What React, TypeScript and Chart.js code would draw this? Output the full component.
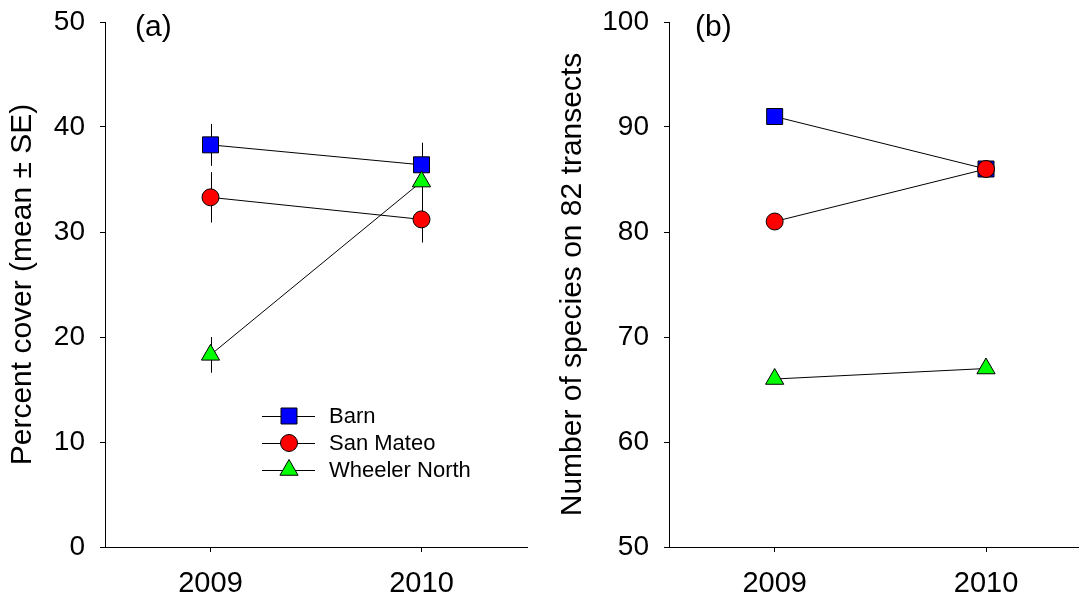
import React, { useEffect, useRef } from 'react';
import { Chart, registerables } from 'chart.js';

Chart.register(...registerables);

const FONT = '"Liberation Sans", Arial, Helvetica, sans-serif';

// ---- data ----
const years = [2009, 2010];
const seriesNames = ['Barn', 'San Mateo', 'Wheeler North'];
const seriesColors = ['#0000FF', '#FF0000', '#00FF00'];
const seriesStyles = ['rect', 'circle', 'triangle'];

const barnCover = [38.3, 36.4];
const barnCoverSE = [2.0, 2.1];
const sanMateoCover = [33.3, 31.2];
const sanMateoCoverSE = [2.4, 2.2];
const wheelerCover = [18.3, 34.8];
const wheelerCoverSE = [1.7, 1.8];

const barnSpecies = [91, 86];
const sanMateoSpecies = [81, 86];
const wheelerSpecies = [66, 67];

const coverTicks = [0, 10, 20, 30, 40, 50];
const speciesTicks = [50, 60, 70, 80, 90, 100];

const coverTitle = 'Percent cover (mean \u00B1 SE)';
const speciesTitle = 'Number of species on 82 transects';

// ---- styling helpers ----
const RADII: Record<string, number> = { rect: 11.3, circle: 8.5, triangle: 10.5 };

function makeDataset(i: number, values: number[], se?: number[]) {
  const style = seriesStyles[i];
  return {
    label: seriesNames[i],
    data: years.map((x, k) => ({ x, y: values[k] })),
    se,
    borderColor: '#000',
    borderWidth: 1,
    pointStyle: style,
    pointRadius: RADII[style],
    pointHoverRadius: RADII[style],
    pointBackgroundColor: seriesColors[i],
    pointBorderColor: '#000',
    pointBorderWidth: 1,
    fill: false,
    tension: 0,
    order: 2 - i,
    clip: false,
  };
}

const errorBarPlugin = {
  id: 'errorBars',
  beforeDatasetsDraw(chart: any) {
    const ctx = chart.ctx;
    const ys = chart.scales.y;
    ctx.save();
    ctx.strokeStyle = '#000';
    ctx.lineWidth = 1;
    chart.data.datasets.forEach((ds: any, di: number) => {
      if (!ds.se) return;
      const meta = chart.getDatasetMeta(di);
      meta.data.forEach((pt: any, k: number) => {
        const v = ds.data[k].y;
        const e = ds.se[k];
        const x = Math.round(pt.x) + 0.5;
        ctx.beginPath();
        ctx.moveTo(x, ys.getPixelForValue(v + e));
        ctx.lineTo(x, ys.getPixelForValue(v - e));
        ctx.stroke();
      });
    });
    ctx.restore();
  },
};

function drawMarker(ctx: CanvasRenderingContext2D, style: string, x: number, y: number, color: string) {
  const r = RADII[style];
  ctx.beginPath();
  if (style === 'rect') {
    const s = Math.SQRT1_2 * r;
    ctx.rect(x - s, y - s, 2 * s, 2 * s);
  } else if (style === 'circle') {
    ctx.arc(x, y, r, 0, Math.PI * 2);
  } else {
    ctx.moveTo(x, y - r);
    ctx.lineTo(x + r * Math.sin((2 * Math.PI) / 3), y - r * Math.cos((2 * Math.PI) / 3));
    ctx.lineTo(x + r * Math.sin((4 * Math.PI) / 3), y - r * Math.cos((4 * Math.PI) / 3));
    ctx.closePath();
  }
  ctx.fillStyle = color;
  ctx.fill();
  ctx.strokeStyle = '#000';
  ctx.lineWidth = 1;
  ctx.stroke();
}

function makeLabelPlugin(text: string, x: number, y: number, legend: boolean) {
  return {
    id: 'panelLabel',
    afterDraw(chart: any) {
      const ctx = chart.ctx;
      ctx.save();
      ctx.fillStyle = '#000';
      ctx.font = `30px ${FONT}`;
      ctx.textBaseline = 'middle';
      ctx.textAlign = 'left';
      ctx.fillText(text, x, y);
      if (legend) {
        ctx.font = `22px ${FONT}`;
        seriesNames.forEach((name, i) => {
          const ly = 416 + i * 27;
          ctx.strokeStyle = '#000';
          ctx.lineWidth = 1;
          ctx.beginPath();
          ctx.moveTo(262, ly + 0.5);
          ctx.lineTo(315, ly + 0.5);
          ctx.stroke();
          drawMarker(ctx, seriesStyles[i], 289, ly, seriesColors[i]);
          ctx.fillStyle = '#000';
          ctx.fillText(name, 329, ly + 1);
        });
      }
      ctx.restore();
    },
  };
}

function zeroPadding(s: any) {
  s.paddingTop = 0;
  s.paddingBottom = 0;
  s.paddingLeft = 0;
  s.paddingRight = 0;
}

function buildConfig(p: {
  datasets: any[];
  yMin: number;
  yMax: number;
  yTicks: number[];
  yTitle: string;
  yWidth: number;
  titlePad: number;
  xMax: number;
  padRight: number;
  plugins: any[];
}) {
  const tickFont = { family: FONT, size: 28 };
  return {
    type: 'line',
    data: { datasets: p.datasets },
    options: {
      animation: false,
      responsive: false,
      devicePixelRatio: 1,
      layout: { padding: { left: 0, right: p.padRight, top: 22, bottom: 0 } },
      plugins: { legend: { display: false }, tooltip: { enabled: false } },
      scales: {
        x: {
          type: 'linear',
          min: 2008.5,
          max: p.xMax,
          afterBuildTicks: (s: any) => {
            s.ticks = years.map((v) => ({ value: v }));
          },
          afterFit: (s: any) => {
            s.height = 52;
            zeroPadding(s);
          },
          ticks: {
            callback: (v: any) => String(v),
            font: { family: FONT, size: 29 },
            color: '#000',
            padding: 15,
            autoSkip: false,
            maxRotation: 0,
          },
          grid: { drawOnChartArea: false, tickLength: 5, color: '#000', tickWidth: 1 },
          border: { display: true, color: '#000', width: 1 },
        },
        y: {
          type: 'linear',
          min: p.yMin,
          max: p.yMax,
          afterBuildTicks: (s: any) => {
            s.ticks = p.yTicks.map((v) => ({ value: v }));
          },
          afterFit: (s: any) => {
            s.width = p.yWidth;
            zeroPadding(s);
          },
          ticks: {
            callback: (v: any) => String(v),
            font: tickFont,
            color: '#000',
            padding: 15,
          },
          grid: { drawOnChartArea: false, tickLength: 5, color: '#000', tickWidth: 1 },
          border: { display: true, color: '#000', width: 1 },
          title: {
            display: true,
            text: p.yTitle,
            font: { family: FONT, size: 30 },
            color: '#000',
            padding: { top: p.titlePad, bottom: 0 },
          },
        },
      },
    },
    plugins: p.plugins,
  } as any;
}

function Panel(props: { width: number; left: number; config: any }) {
  const ref = useRef<HTMLCanvasElement>(null);
  useEffect(() => {
    if (!ref.current) return;
    const chart = new Chart(ref.current, props.config);
    return () => chart.destroy();
  }, []);
  return (
    <div style={{ position: 'absolute', left: props.left, top: 0, width: props.width, height: 599 }}>
      <canvas ref={ref} width={props.width} height={599} style={{ display: 'block' }} />
    </div>
  );
}

export default function App() {
  const configA = buildConfig({
    datasets: [
      makeDataset(0, barnCover, barnCoverSE),
      makeDataset(1, sanMateoCover, sanMateoCoverSE),
      makeDataset(2, wheelerCover, wheelerCoverSE),
    ],
    yMin: 0,
    yMax: 50,
    yTicks: coverTicks,
    yTitle: coverTitle,
    yWidth: 105,
    titlePad: 5,
    xMax: 2010.5,
    padRight: 13,
    plugins: [errorBarPlugin, makeLabelPlugin('(a)', 135, 28, true)],
  });
  const configB = buildConfig({
    datasets: [
      makeDataset(0, barnSpecies),
      makeDataset(1, sanMateoSpecies),
      makeDataset(2, wheelerSpecies),
    ],
    yMin: 50,
    yMax: 100,
    yTicks: speciesTicks,
    yTitle: speciesTitle,
    yWidth: 129,
    titlePad: 15,
    xMax: 2010.44,
    padRight: 13,
    plugins: [makeLabelPlugin('(b)', 155, 28, false)],
  });
  return (
    <div style={{ position: 'absolute', left: 0, top: 0, width: 1079, height: 599, background: '#fff', overflow: 'hidden' }}>
      <Panel width={540} left={0} config={configA} />
      <Panel width={552} left={540} config={configB} />
    </div>
  );
}
